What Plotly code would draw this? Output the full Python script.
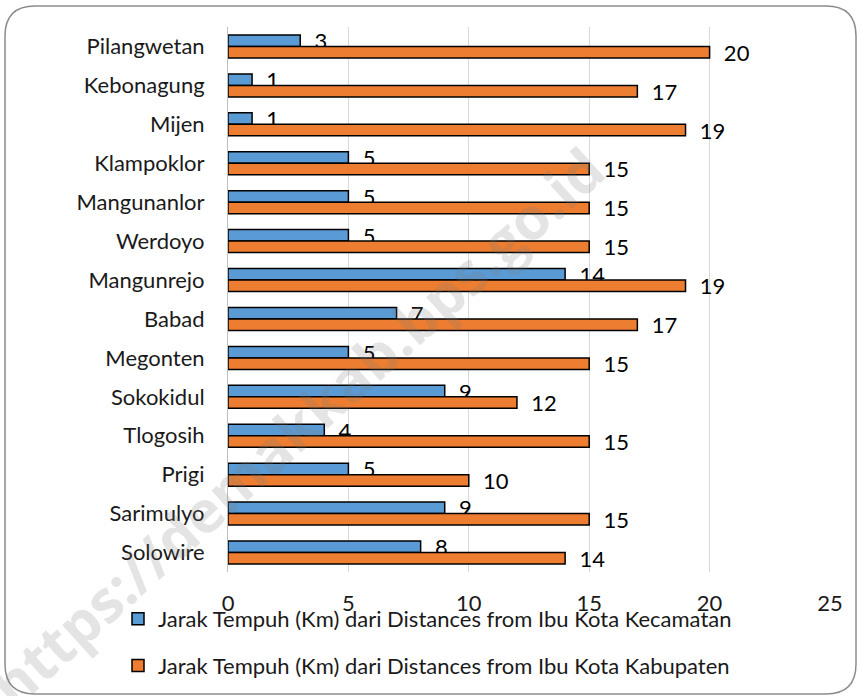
import plotly.graph_objects as go

# Data, top-to-bottom order as in the picture
desa = [
    "Pilangwetan", "Kebonagung", "Mijen", "Klampoklor", "Mangunanlor",
    "Werdoyo", "Mangunrejo", "Babad", "Megonten", "Sokokidul",
    "Tlogosih", "Prigi", "Sarimulyo", "Solowire",
]
jarak_kecamatan = [3, 1, 1, 5, 5, 5, 14, 7, 5, 9, 4, 5, 9, 8]
jarak_kabupaten = [20, 17, 19, 15, 15, 15, 19, 17, 15, 12, 15, 10, 15, 14]

nama_kecamatan = "Jarak Tempuh (Km) dari Distances from Ibu Kota Kecamatan"
nama_kabupaten = "Jarak Tempuh (Km) dari Distances from Ibu Kota Kabupaten"

FONT = "Lato"
FS = 22
W, H = 859, 696
L, R, T, B = 228, 29, 27, 124
PW, PH = W - L - R, H - T - B


def px(x, y):
    # pixel -> paper coordinates
    return (x - L) / PW, (H - B - y) / PH


def rounded_rect(x0, y0, x1, y1, r):
    pts = []
    a = px(x0 + r, y0); pts.append(f"M{a[0]},{a[1]}")
    a = px(x1 - r, y0); pts.append(f"L{a[0]},{a[1]}")
    c = px(x1, y0); e = px(x1, y0 + r); pts.append(f"Q{c[0]},{c[1]} {e[0]},{e[1]}")
    a = px(x1, y1 - r); pts.append(f"L{a[0]},{a[1]}")
    c = px(x1, y1); e = px(x1 - r, y1); pts.append(f"Q{c[0]},{c[1]} {e[0]},{e[1]}")
    a = px(x0 + r, y1); pts.append(f"L{a[0]},{a[1]}")
    c = px(x0, y1); e = px(x0, y1 - r); pts.append(f"Q{c[0]},{c[1]} {e[0]},{e[1]}")
    a = px(x0, y0 + r); pts.append(f"L{a[0]},{a[1]}")
    c = px(x0, y0); e = px(x0 + r, y0); pts.append(f"Q{c[0]},{c[1]} {e[0]},{e[1]}")
    return " ".join(pts) + " Z"


fig = go.Figure()
for nama, nilai, warna, grp in [
    (nama_kecamatan, jarak_kecamatan, "#5B9BD5", "a"),
    (nama_kabupaten, jarak_kabupaten, "#ED7D31", "b"),
]:
    fig.add_trace(go.Bar(
        x=nilai,
        y=desa,
        orientation="h",
        name=nama,
        legendgroup=grp,
        marker=dict(color=warna, line=dict(color="#000000", width=1.5)),
        text=nilai,
        texttemplate="\u00a0\u00a0%{x}",
        textposition="outside",
        constraintext="none",
        cliponaxis=False,
        textfont=dict(family=FONT, size=FS, color="#000000"),
    ))

lx, ly = px(118, 598)
fig.update_layout(
    width=W, height=H,
    margin=dict(l=L, r=R, t=T, b=B, autoexpand=False),
    paper_bgcolor="white",
    plot_bgcolor="white",
    barmode="group",
    bargap=0.41,
    bargroupgap=0,
    font=dict(family=FONT, size=FS, color="#1a1a1a"),
    legend=dict(
        orientation="v",
        x=lx, y=ly,
        xanchor="left", yanchor="top",
        traceorder="grouped",
        tracegroupgap=15,
        font=dict(family=FONT, size=FS, color="#1a1a1a"),
        bgcolor="rgba(0,0,0,0)",
    ),
    showlegend=True,
)

fig.update_xaxes(
    range=[0, 25], dtick=5, automargin=False,
    showgrid=True, gridcolor="#d9d9d9", gridwidth=1,
    zeroline=False, showline=False,
    ticks="", ticklabelstandoff=16,
    tickfont=dict(family=FONT, size=FS, color="#1a1a1a"),
)
fig.update_yaxes(
    type="category", autorange="reversed", automargin=False,
    showgrid=False, showline=True, linecolor="#bfbfbf", linewidth=1,
    ticks="", ticklabelstandoff=18,
    tickfont=dict(family=FONT, size=FS, color="#1a1a1a"),
)

# Bingkai bulat di sekeliling grafik
fig.add_shape(
    type="path", xref="paper", yref="paper",
    path=rounded_rect(5, 6, 856, 694, 30),
    line=dict(color="#8c8c8c", width=1.5),
    layer="above",
)

# Watermark
wx, wy = px(296, 426)
fig.add_annotation(
    text="https://demakkab.bps.go.id",
    xref="paper", yref="paper", x=wx, y=wy,
    xanchor="center", yanchor="middle",
    showarrow=False, textangle=-42,
    font=dict(family="Open Sans", size=58, color="rgba(120,120,120,0.2)", weight="bold"),
)

fig.write_html(
    "out.html",
    config={"displayModeBar": False},
    post_script="document.body.style.margin='0px';",
)
